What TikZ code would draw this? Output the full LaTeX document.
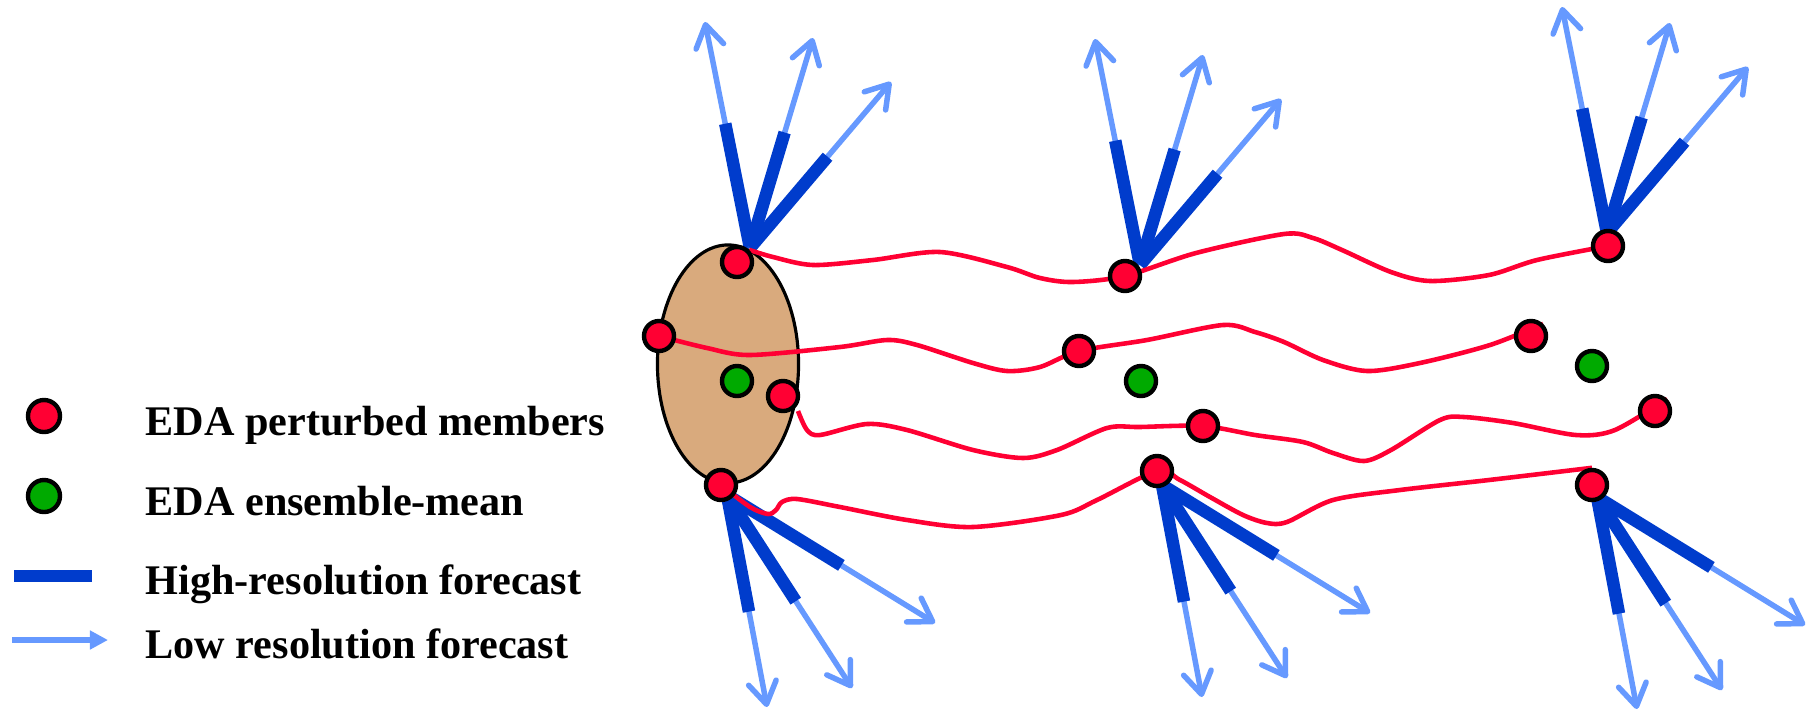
\documentclass[tikz,border=0pt]{standalone}
\usepackage{fontspec}
\setmainfont{Liberation Serif}
\usepackage{tikz}
\usetikzlibrary{shapes.geometric,arrows.meta,backgrounds,calc}

\definecolor{edared}{RGB}{255,0,51}
\definecolor{edagreen}{RGB}{0,170,0}
\definecolor{hiblue}{RGB}{0,60,204}
\definecolor{loblue}{RGB}{102,153,255}
\definecolor{cloudtan}{RGB}{217,170,125}

\tikzset{
  circR/.style={ draw, circle, line width=1.25pt, fill=edared, minimum size=3mm, inner sep=0pt }
}
\tikzset{
  circG/.style={ draw, circle, line width=1.25pt, fill=edagreen, minimum size=3mm, inner sep=0pt }
}
\tikzset{
  hires/.style={ draw=hiblue, line width=1.25mm }
}
\tikzset{
  lores/.style={ draw=loblue, line width=0.55mm, -{Straight Barb[round, length=2.2mm, width=2.8mm]} }
}
\tikzset{
  traj/.style={ draw=edared, line width=1.3pt }
}
\tikzset{
  legtext/.style={ anchor=base west, inner sep=0pt, font=\fontsize{12}{14}\selectfont\bfseries }
}

\begin{document}
\begin{tikzpicture}[x=0.01cm, y=-0.01cm]
  \useasboundingbox (0,0) rectangle (1814,711);

  % analysis members
  \node[circR] (a1) at (737, 262) {};
  \node[circR] (a2) at (659, 336) {};
  \node[circR] (a3) at (783, 396) {};
  \node[circR] (a4) at (721, 485) {};
  \node[circG] (g1) at (737, 381) {};

  % first forecast step
  \node[circR] (b1) at (1125, 276) {};
  \node[circR] (b2) at (1079, 351) {};
  \node[circR] (b3) at (1203, 426) {};
  \node[circR] (b4) at (1157, 471) {};
  \node[circG] (g2) at (1141, 381) {};

  % second forecast step
  \node[circR] (c1) at (1608, 246) {};
  \node[circR] (c2) at (1531, 336) {};
  \node[circR] (c3) at (1655, 411) {};
  \node[circR] (c4) at (1592, 485) {};
  \node[circG] (g3) at (1592, 366) {};

  \begin{pgfonlayer}{background}
    \node[ellipse, draw, line width=0.9pt, fill=cloudtan, minimum width=1.41cm, minimum height=2.38cm] (cloud) at (728, 364) {};

    % forecast fans
    \coordinate (fa1) at (750, 248);
    \coordinate (fb1) at (1140, 265);
    \coordinate (fc1) at (1607, 233);
    \coordinate (fa4) at (727, 495);
    \coordinate (fb4) at (1162, 485);
    \coordinate (fc4) at (1597, 497);
    \foreach \fan in {fa1,fb1,fc1}
      \foreach \v [count=\i] in {{(-45,-226)},{(63,-210)},{(141,-166)}} {
        \coordinate (\fan-tip\i) at ([shift={\v}]\fan);
        \draw[lores] (\fan) -- (\fan-tip\i);
        \draw[hires] (\fan) -- ($(\fan)!0.55!(\fan-tip\i)$);
      }
    \foreach \fan in {fa4,fb4,fc4}
      \foreach \v [count=\i] in {{(40,212)},{(125,193)},{(208,128)}} {
        \coordinate (\fan-tip\i) at ([shift={\v}]\fan);
        \draw[lores] (\fan) -- (\fan-tip\i);
        \draw[hires] (\fan) -- ($(\fan)!0.55!(\fan-tip\i)$);
      }

    % trajectories
    \draw[traj] plot[smooth] coordinates {(a1.north east) (773,257) (813,265) (873,260) (940,252) (1007,267) (1040,278) (1073,282) (b1.center) (1196,253) (1284,234) (1313,238) (1342,250) (1391,272) (1430,281) (1489,275) (1537,260) (c1.center)};
    \draw[traj] plot[smooth] coordinates {(a2.center) (707,348) (750,355) (840,347) (887,340) (917,345) (973,363) (1007,371) (1040,367) (b2.center) (1147,340) (1223,325) (1255,332) (1284,342) (1323,360) (1367,371) (1420,363) (1490,345) (c2.north east)};
    \coordinate (cstart) at (798, 411);
    \draw[traj] plot[smooth] coordinates {(cstart) (807,430) (820,435) (867,424) (907,430) (973,450) (1023,458) (1057,450) (1107,428) (1140,427) (b3.center) (1255,435) (1303,442) (1333,453) (1364,461) (1391,450) (1440,420) (1464,417) (1513,423) (1576,435) (1615,430) (c3.north east)};
    \draw[traj] plot[smooth] coordinates {(a4.center) (750,507) (768,514) (776,510) (782,502) (797,499) (840,507) (907,520) (973,527) (1061,515) (1097,500) (b4.center) (1180,480) (1210,497) (1243,515) (1267,523) (1287,522) (1333,500) (1400,490) (1489,480) (c4.north)};
  \end{pgfonlayer}

  % legend
  \node[circR, minimum size=3.2mm] (kr) at (44, 416) {};
  \node[circG, minimum size=3.2mm] (kg) at (44, 496) {};
  \coordinate (kh1) at (14, 576);
  \coordinate (kh2) at (92, 576);
  \draw[hires, line width=1.25mm] (kh1) -- (kh2);
  \coordinate (kl1) at (12, 640);
  \coordinate (kl2) at (108, 640);
  \draw[draw=loblue, line width=0.65mm, -{Triangle[length=1.8mm, width=1.8mm]}] (kl1) -- (kl2);
  \node[legtext] (tr) at (145, 435) {EDA perturbed members};
  \node[legtext] (tg) at (145, 515) {EDA ensemble-mean};
  \node[legtext] (th) at (145, 594) {High-resolution forecast};
  \node[legtext] (tl) at (145, 658) {Low resolution forecast};
\end{tikzpicture}
\end{document}
